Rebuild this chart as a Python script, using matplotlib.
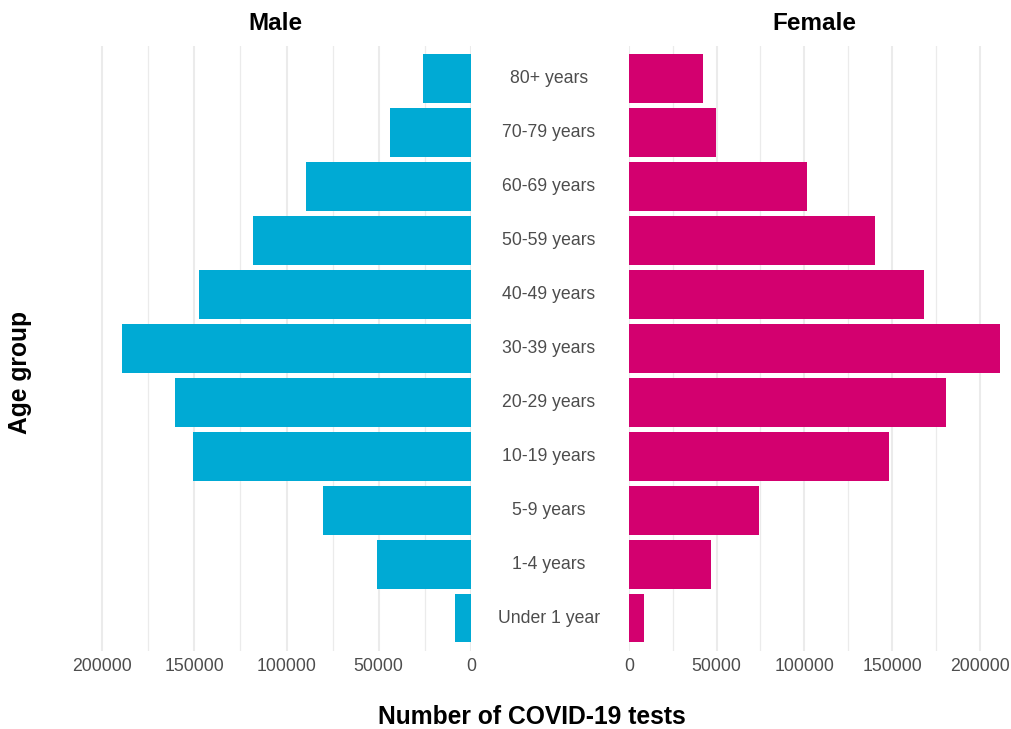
import matplotlib.pyplot as plt
from matplotlib.ticker import MultipleLocator
from matplotlib.transforms import blended_transform_factory

plt.rcParams['font.family'] = ['Liberation Sans', 'DejaVu Sans']

# age groups, from top to bottom
age_groups = ['80+ years', '70-79 years', '60-69 years', '50-59 years', '40-49 years',
              '30-39 years', '20-29 years', '10-19 years', '5-9 years', '1-4 years',
              'Under 1 year']
male_tests = [26000, 44000, 89700, 118000, 147500, 189000, 160500, 150500, 80000, 51000, 8800]
female_tests = [42200, 49600, 101800, 140500, 168300, 211500, 180800, 148500, 74300, 46700, 8500]

male_colour = '#00AAD4'
female_colour = '#D3006F'
text_grey = '#4D4D4D'

fig = plt.figure(figsize=(10.11, 7.29), dpi=100)
ax_m = fig.add_axes([0.0791, 0.1076, 0.3867, 0.829])
ax_f = fig.add_axes([0.622, 0.1076, 0.368, 0.829])

pos = list(range(len(age_groups)))[::-1]

ax_m.barh(pos, male_tests, height=0.9, color=male_colour, zorder=3)
ax_f.barh(pos, female_tests, height=0.9, color=female_colour, zorder=3)

ax_m.set_xlim(212000, 0)
ax_f.set_xlim(0, 212000)

for ax, title in [(ax_m, 'Male'), (ax_f, 'Female')]:
    ax.set_ylim(-0.6, len(age_groups) - 0.4)
    ax.set_yticks([])
    ax.xaxis.set_major_locator(MultipleLocator(50000))
    ax.xaxis.set_minor_locator(MultipleLocator(25000))
    ax.grid(axis='x', which='major', color='#EBEBEB', linewidth=1.5, zorder=0)
    ax.grid(axis='x', which='minor', color='#EBEBEB', linewidth=0.9, zorder=0)
    ax.tick_params(axis='x', which='both', length=0, pad=5, labelsize=12.7, labelcolor=text_grey)
    for s in ax.spines.values():
        s.set_visible(False)
    ax.set_title(title, fontsize=17.5, fontweight='bold', pad=12)

# age labels in the gap between the two panels
tr = blended_transform_factory(fig.transFigure, ax_m.transData)
for p, label in zip(pos, age_groups):
    fig.text(549 / 1011, p, label, transform=tr, ha='center', va='center',
             fontsize=12.7, color=text_grey)

fig.text(532 / 1011, 1 - 717 / 729, 'Number of COVID-19 tests', ha='center', va='center',
         fontsize=17.7, fontweight='bold')
fig.text(20 / 1011, 1 - 373 / 729, 'Age group', ha='center', va='center',
         rotation=90, fontsize=17.7, fontweight='bold')

fig.savefig('out.png', dpi=100)
